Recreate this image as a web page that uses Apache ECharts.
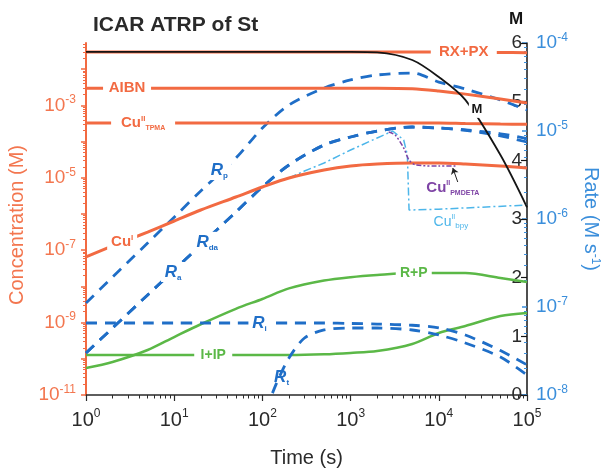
<!DOCTYPE html>
<html><head><meta charset="utf-8">
<script src="https://cdn.jsdelivr.net/npm/echarts@6/dist/echarts.min.js"></script>
<style>html,body{margin:0;padding:0;background:#fff}#c{width:603px;height:470px}</style>
</head><body><div id="c"></div>
<script>
// ---------- data ----------
const T = [1, 2, 5, 10, 20, 50, 100, 200, 500, 1e3, 2e3, 5e3, 1e4, 2e4, 5e4, 1e5];
// concentrations (M)
const RXPX   = [0.030,0.030,0.030,0.030,0.030,0.030,0.030,0.030,0.030,0.030,0.030,0.030,0.030,0.030,0.029,0.0285];
const AIBN   = [3.0e-3,3.0e-3,3.0e-3,3.0e-3,3.0e-3,3.0e-3,3.0e-3,3.0e-3,3.0e-3,3.0e-3,3.0e-3,2.9e-3,2.5e-3,2.05e-3,1.5e-3,1.17e-3];
const CuII_TPMA = [3.25e-4,3.25e-4,3.25e-4,3.25e-4,3.25e-4,3.25e-4,3.25e-4,3.25e-4,3.25e-4,3.25e-4,3.25e-4,3.25e-4,3.25e-4,3.15e-4,3.05e-4,3.0e-4];
const CuI    = [6.5e-8,1.31e-7,3.18e-7,6.41e-7,1.29e-6,2.95e-6,5.57e-6,9.86e-6,1.64e-5,2.12e-5,2.40e-5,2.56e-5,2.56e-5,2.40e-5,2.12e-5,1.87e-5];
const RplusP = [5.57e-11,8.17e-11,1.75e-10,4.0e-10,9.0e-10,2.4e-9,4.5e-9,8.8e-9,1.45e-8,1.8e-8,2.07e-8,2.34e-8,2.34e-8,2.34e-8,1.71e-8,1.32e-8];
const IplusIP = [1.27e-10,1.27e-10,1.27e-10,1.27e-10,1.27e-10,1.27e-10,1.27e-10,1.27e-10,1.33e-10,1.45e-10,1.64e-10,2.57e-10,5.17e-10,8.05e-10,1.52e-9,1.84e-9];
const tBpy   = [200, 300, 500, 1e3, 2e3, 3e3, 4e3, 4.4e3, 4.6e3, 1e4, 1e5];
const CuII_bpy = [9.86e-6,1.54e-5,2.56e-5,5.86e-5,1.26e-4,1.96e-4,1.11e-4,4.27e-5,1.29e-6,1.36e-6,1.77e-6];
const tPm    = [2.7e3, 3.2e3, 4e3, 4.6e3, 5.5e3, 1e4, 1.6e4];
const CuII_PMDETA = [1.84e-4,1.52e-4,6.65e-5,3.10e-5,2.26e-5,2.12e-5,2.12e-5];
// rates (M s^-1)
const Rp  = [1.11e-7,2.19e-7,5.33e-7,1.05e-6,2.08e-6,4.93e-6,1.08e-5,1.97e-5,3.08e-5,3.80e-5,4.33e-5,4.56e-5,3.6e-5,3.0e-5,2.25e-5,1.73e-5];
const Rda = [3.0e-8,5.77e-8,1.37e-7,2.63e-7,5.07e-7,1.20e-6,2.31e-6,4.11e-6,6.93e-6,8.55e-6,1.0e-5,1.11e-5,1.08e-5,1.03e-5,9.3e-6,8.2e-6];
const Ra  = [3.0e-8,5.77e-8,1.37e-7,2.63e-7,5.07e-7,1.20e-6,2.31e-6,4.11e-6,6.93e-6,8.55e-6,1.0e-5,1.11e-5,1.08e-5,1.02e-5,8.8e-6,7.5e-6];
const Ri  = [6.58e-8,6.58e-8,6.58e-8,6.58e-8,6.58e-8,6.58e-8,6.58e-8,6.58e-8,6.58e-8,6.5e-8,6.4e-8,6.2e-8,5.8e-8,4.8e-8,3.2e-8,2.2e-8];
const tRt = [130, 150, 200, 300, 500, 1e3, 2e3, 5e3, 1e4, 2e4, 5e4, 1e5];
const Rt  = [1.05e-8,1.48e-8,2.63e-8,4.44e-8,5.48e-8,5.77e-8,5.77e-8,5.48e-8,4.81e-8,3.90e-8,2.70e-8,1.69e-8];
// monomer (M)
const Mono = [5.85,5.85,5.85,5.85,5.85,5.85,5.85,5.85,5.85,5.85,5.84,5.71,5.42,5.03,4.09,3.20];
// ticks
const xTicks = [1, 10, 100, 1e3, 1e4, 1e5];
const concTicks = [1e-11,1e-10,1e-9,1e-8,1e-7,1e-6,1e-5,1e-4,1e-3,1e-2];
const concLabels = [1e-11,1e-9,1e-7,1e-5,1e-3];
const rateTicks = [1e-8,1e-7,1e-6,1e-5,1e-4];

// ---------- styling ----------
const FONT = 'Arial, "Liberation Sans", Helvetica, sans-serif';
const ORANGE = '#F26A42', ORANGE_T = '#F3764F', BLUE = '#1F6EC7', BLUE_T = '#3A8EDB',
      GREEN = '#5BB847', LBLUE = '#4DB6EA', PURPLE = '#7E43A5', BLACK = '#151515', GREY = '#2a2a2a';
const CONC_MAX = 0.053;

function minors(lo, hi, max) {
  const out = [];
  for (let e = lo; e < hi; e++) for (let k = 2; k <= 9; k++) {
    const v = k * Math.pow(10, e);
    if (v <= max * 1.0001) out.push(v);
  }
  return out;
}
function powRich(size, color) {
  const s = Math.round(size * 0.62);
  return {
    bs: { fontSize: size, color, fontFamily: FONT, lineHeight: size + 4 },
    sp: { fontSize: s, color, fontFamily: FONT, verticalAlign: 'top', lineHeight: s }
  };
}
function powFmt(v) { return '{bs|10}{sp|' + Math.round(Math.log10(v)) + '}'; }

function pairs(t, v) { return t.map((x, i) => [x, v[i]]); }
function line(name, t, v, yIdx, color, width, type, extra) {
  return Object.assign({
    type: 'line', name, yAxisIndex: yIdx, data: pairs(t, v),
    symbol: 'none', smooth: 0.3, silent: true,
    lineStyle: { color, width, type, cap: 'butt' }
  }, extra || {});
}
function tag(coord, text, rich, w, h, bg) {
  return {
    coord, symbol: 'rect', symbolSize: bg ? [w, h] : [1, 1],
    itemStyle: { color: bg ? '#ffffff' : 'rgba(255,255,255,0)' },
    label: { show: true, position: 'inside', formatter: () => text, rich }
  };
}
function mp(data) { return { silent: true, animation: false, data }; }

const rOrange = {
  t: { fontSize: 15, fontWeight: 'bold', color: ORANGE, fontFamily: FONT, lineHeight: 17 },
  sp: { fontSize: 8, fontWeight: 'bold', color: ORANGE, fontFamily: FONT, verticalAlign: 'top', lineHeight: 8 },
  sb: { fontSize: 7, fontWeight: 'bold', color: ORANGE, fontFamily: FONT, verticalAlign: 'bottom', lineHeight: 7 }
};
const rBlue = {
  t: { fontSize: 17, fontWeight: 'bold', fontStyle: 'italic', color: BLUE, fontFamily: FONT, lineHeight: 19 },
  sb: { fontSize: 8, fontWeight: 'bold', color: BLUE, fontFamily: FONT, verticalAlign: 'bottom', lineHeight: 8 }
};
const rGreen = { t: { fontSize: 14, fontWeight: 'bold', color: GREEN, fontFamily: FONT, lineHeight: 16 } };
const rBlack = { t: { fontSize: 13, fontWeight: 'bold', color: BLACK, fontFamily: FONT, lineHeight: 15 } };
const rPurple = {
  t: { fontSize: 15, fontWeight: 'bold', color: PURPLE, fontFamily: FONT, lineHeight: 17 },
  sp: { fontSize: 7, fontWeight: 'bold', color: PURPLE, fontFamily: FONT, verticalAlign: 'top', lineHeight: 7 },
  sb: { fontSize: 7, fontWeight: 'bold', color: PURPLE, fontFamily: FONT, verticalAlign: 'bottom', lineHeight: 7 }
};
const rLBlue = {
  t: { fontSize: 14, color: LBLUE, fontFamily: FONT, lineHeight: 16 },
  sp: { fontSize: 7, color: LBLUE, fontFamily: FONT, verticalAlign: 'top', lineHeight: 7 },
  sb: { fontSize: 8, color: LBLUE, fontFamily: FONT, verticalAlign: 'bottom', lineHeight: 8 }
};

const chart = echarts.init(document.getElementById('c'), null, { renderer: 'canvas' });
const option = {
  animation: false,
  backgroundColor: '#ffffff',
  title: { text: 'ICAR ATRP of St', left: 88, top: 10,
    textStyle: { fontSize: 21, fontWeight: 'bold', color: GREY, fontFamily: FONT } },
  grid: { left: 86, right: 76, top: 43, bottom: 75, containLabel: false, outerBoundsMode: 'none' },
  xAxis: [
    { type: 'log', logBase: 10, min: 1, max: 1e5, position: 'bottom',
      axisLine: { onZero: false, lineStyle: { color: GREY, width: 1.5 } },
      axisTick: { length: 6, customValues: xTicks, lineStyle: { color: GREY, width: 1.2 } },
      axisLabel: { customValues: xTicks, formatter: powFmt, rich: powRich(20, GREY), margin: 13 },
      splitLine: { show: false }, minorTick: { show: false },
      name: 'Time (s)', nameLocation: 'middle', nameGap: 53,
      nameTextStyle: { fontSize: 20, color: GREY, fontFamily: FONT } },
    { type: 'log', logBase: 10, min: 1, max: 1e5, position: 'bottom',
      axisLine: { show: false, onZero: false },
      axisTick: { length: 3.5, customValues: minors(0, 5, 1e5), lineStyle: { color: GREY, width: 1 } },
      axisLabel: { show: false }, splitLine: { show: false } }
  ],
  yAxis: [
    { type: 'log', logBase: 10, min: 1e-11, max: CONC_MAX, position: 'left',
      axisLine: { onZero: false, lineStyle: { color: ORANGE, width: 2 } },
      axisTick: { length: 5, customValues: concTicks, lineStyle: { color: ORANGE, width: 1.5 } },
      axisLabel: { customValues: concLabels, formatter: powFmt, rich: powRich(19, ORANGE_T), margin: 10 },
      splitLine: { show: false },
      name: 'Concentration (M)', nameLocation: 'middle', nameRotate: 90, nameGap: 52,
      nameTextStyle: { fontSize: 20, color: ORANGE_T, fontFamily: FONT, padding: [0, 12, 0, 0] } },
    { type: 'log', logBase: 10, min: 1e-8, max: 1e-4, position: 'right',
      axisLine: { show: false, onZero: false },
      axisTick: { inside: true, length: 5, customValues: rateTicks, lineStyle: { color: BLUE_T, width: 1.5 } },
      axisLabel: { customValues: rateTicks, formatter: powFmt, rich: powRich(19, BLUE_T), margin: 9 },
      splitLine: { show: false },
      name: 'Rate (M s{sp|-1})', nameLocation: 'middle', nameRotate: -90, nameGap: 54,
      nameTextStyle: { fontSize: 20, color: BLUE_T, fontFamily: FONT,
        rich: { sp: { fontSize: 12, color: BLUE_T, fontFamily: FONT, verticalAlign: 'top', lineHeight: 12 } } } },
    { type: 'value', min: 0, max: 6, interval: 1, position: 'right',
      axisLine: { onZero: false, lineStyle: { color: BLACK, width: 1.5 } },
      axisTick: { inside: true, length: 6, lineStyle: { color: BLACK, width: 1.2 } },
      axisLabel: { inside: true, margin: 5, fontSize: 19, color: GREY, fontFamily: FONT },
      splitLine: { show: false },
      name: 'M', nameLocation: 'end', nameGap: 15,
      nameTextStyle: { fontSize: 17, fontWeight: 'bold', color: BLACK, fontFamily: FONT, padding: [0, 22, 0, 0] } },
    { type: 'log', logBase: 10, min: 1e-11, max: CONC_MAX, position: 'left',
      axisLine: { show: false, onZero: false },
      axisTick: { length: 3, customValues: minors(-11, -1, CONC_MAX), lineStyle: { color: ORANGE, width: 1 } },
      axisLabel: { show: false }, splitLine: { show: false } },
    { type: 'log', logBase: 10, min: 1e-8, max: 1e-4, position: 'right',
      axisLine: { show: false, onZero: false },
      axisTick: { inside: true, length: 3, customValues: minors(-8, -4, 1e-4), lineStyle: { color: BLUE_T, width: 1 } },
      axisLabel: { show: false }, splitLine: { show: false } }
  ],
  series: [
    line('I+IP', T, IplusIP, 0, GREEN, 2.5, 'solid', { markPoint: mp([tag([27.7, 1.27e-10], '{t|I+IP}', rGreen, 38, 14, true)]) }),
    line('R+P', T, RplusP, 0, GREEN, 2.5, 'solid', { markPoint: mp([tag([5.2e3, 2.34e-8], '{t|R+P}', rGreen, 36, 14, true)]) }),
    line('Ri', T, Ri, 1, BLUE, 2.8, [11, 8], { markPoint: mp([tag([92.5, 6.58e-8], '{t|R}{sb|i}', rBlue, 22, 20, true)]) }),
    line('Rt', tRt, Rt, 1, BLUE, 2.8, [11, 8], { markPoint: mp([tag([165, 1.6e-8], '{t|R}{sb|t}', rBlue, 1, 1, false)]) }),
    line('Ra', T, Ra, 1, BLUE, 2.8, [11, 8], { markPoint: mp([tag([9.7, 2.5e-7], '{t|R}{sb|a}', rBlue, 24, 20, true)]) }),
    line('Rda', T, Rda, 1, BLUE, 2.8, [11, 8], { markPoint: mp([tag([23.7, 5.5e-7], '{t|R}{sb|da}', rBlue, 30, 20, true)]) }),
    line('Rp', T, Rp, 1, BLUE, 2.8, [11, 8], { markPoint: mp([tag([32.5, 3.6e-6], '{t|R}{sb|p}', rBlue, 24, 20, true)]) }),
    line('CuII_bpy', tBpy, CuII_bpy, 0, LBLUE, 1.5, [8, 3, 2, 3], { smooth: false,
      markPoint: mp([tag([1.37e4, 6.0e-7], '{t|Cu}{sp|II}{sb|bpy}', rLBlue, 1, 1, false)]) }),
    line('CuI', T, CuI, 0, ORANGE, 3, 'solid', { markPoint: mp([tag([2.57, 1.7e-7], '{t|Cu}{sp|I}', rOrange, 30, 16, true)]) }),
    line('CuII_PMDETA', tPm, CuII_PMDETA, 0, PURPLE, 1.5, [5, 2, 2, 2, 2, 2], {
      markPoint: mp([tag([1.44e4, 5.2e-6], '{t|Cu}{sp|II}{sb|PMDETA}', rPurple, 1, 1, false)]),
      markLine: { silent: true, animation: false, symbol: ['none', 'arrow'], symbolSize: 6,
        lineStyle: { color: '#222', width: 1, type: 'solid' }, label: { show: false },
        data: [[{ coord: [1.64e4, 7.66e-6] }, { coord: [1.44e4, 1.87e-5] }]] } }),
    line('CuII_TPMA', T, CuII_TPMA, 0, ORANGE, 3, 'solid', { markPoint: mp([tag([4.44, 3.25e-4], '{t|Cu}{sp|II}{sb|TPMA}', rOrange, 64, 18, true)]) }),
    line('AIBN', T, AIBN, 0, ORANGE, 3, 'solid', { markPoint: mp([tag([2.92, 3.0e-3], '{t|AIBN}', rOrange, 48, 14, true)]) }),
    line('RX+PX', T, RXPX, 0, ORANGE, 3, 'solid', { markPoint: mp([tag([1.92e4, 0.030], '{t|RX+PX}', rOrange, 66, 14, true)]) }),
    line('M', T, Mono, 2, BLACK, 1.8, 'solid', { markPoint: mp([tag([2.7e4, 4.86], '{t|M}', rBlack, 16, 16, true)]) })
  ]
};
chart.setOption(option);
</script>
</body></html>
